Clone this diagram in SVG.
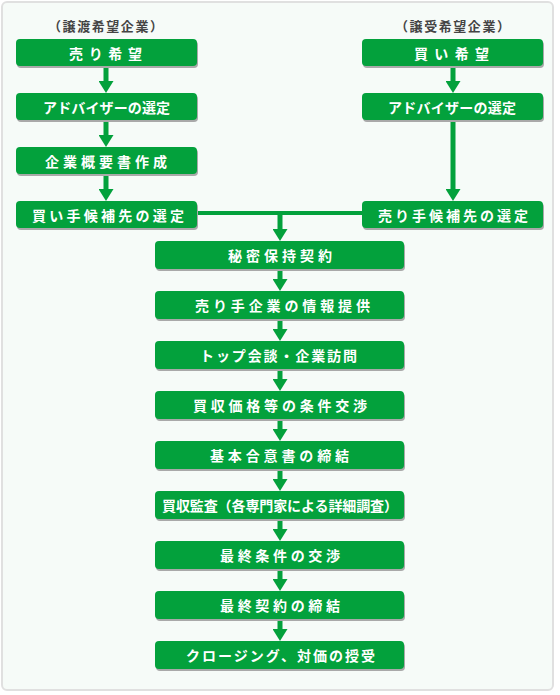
<svg xmlns="http://www.w3.org/2000/svg" width="560" height="695" viewBox="0 0 560 695">
<defs>
<style>
.panel{fill:#f6fbf8;stroke:#e0e0e0;stroke-width:2}
.box{fill:#03a13c}
.sh{fill:#a9a9a9}
.lbl{font-family:"Noto Sans CJK JP","Noto Sans",sans-serif;font-weight:bold;font-size:14px;fill:#ffffff;text-anchor:middle;dominant-baseline:central}
.hdr{font-family:"Noto Sans CJK JP","Noto Sans",sans-serif;font-weight:bold;font-size:13px;fill:#444444;text-anchor:middle;dominant-baseline:central}
.ln{stroke:#03a13c;stroke-width:5;fill:none}
.hl{stroke:#03a13c;stroke-width:4;fill:none}
</style>
<marker id="ah" markerUnits="userSpaceOnUse" markerWidth="12" markerHeight="15" viewBox="0 0 12 15" refX="0" refY="7.5" orient="auto">
<path d="M0,0 L12,7.5 L0,15 Z" fill="#03a13c"/>
</marker>
</defs>
<rect x="0" y="0" width="560" height="695" fill="#ffffff"/>
<rect class="panel" x="2" y="2" width="551" height="688" rx="5"/>
<text class="hdr" x="105.5" y="25.5" textLength="115" lengthAdjust="spacing">（譲渡希望企業）</text>
<text class="hdr" x="452.5" y="25.5" textLength="115" lengthAdjust="spacing">（譲受希望企業）</text>
<g id="connectors">
<path class="ln" d="M106,66 V81" marker-end="url(#ah)"/>
<path class="ln" d="M106,120 V135" marker-end="url(#ah)"/>
<path class="ln" d="M106,174 V189" marker-end="url(#ah)"/>
<path class="ln" d="M453,66 V81" marker-end="url(#ah)"/>
<path class="ln" d="M453,120 V189" marker-end="url(#ah)"/>
<path class="hl" d="M197,213 H362"/>
<path class="ln" d="M280,211 V229" marker-end="url(#ah)"/>
<path class="ln" d="M280,269 V279" marker-end="url(#ah)"/>
<path class="ln" d="M280,319 V329" marker-end="url(#ah)"/>
<path class="ln" d="M280,369 V379" marker-end="url(#ah)"/>
<path class="ln" d="M280,419 V429" marker-end="url(#ah)"/>
<path class="ln" d="M280,469 V479" marker-end="url(#ah)"/>
<path class="ln" d="M280,519 V529" marker-end="url(#ah)"/>
<path class="ln" d="M280,569 V579" marker-end="url(#ah)"/>
<path class="ln" d="M280,619 V629" marker-end="url(#ah)"/>
</g>
<g id="n1"><rect class="sh" x="17" y="41" width="181" height="27" rx="4"/><rect class="box" x="16" y="39" width="181" height="27" rx="4"/><text class="lbl" x="105.5" y="53" textLength="73" lengthAdjust="spacing">売り希望</text></g>
<g id="n2"><rect class="sh" x="17" y="95" width="181" height="27" rx="4"/><rect class="box" x="16" y="93" width="181" height="27" rx="4"/><text class="lbl" x="106.5" y="107" textLength="127" lengthAdjust="spacing">アドバイザーの選定</text></g>
<g id="n3"><rect class="sh" x="17" y="149" width="181" height="27" rx="4"/><rect class="box" x="16" y="147" width="181" height="27" rx="4"/><text class="lbl" x="106" y="161" textLength="122" lengthAdjust="spacing">企業概要書作成</text></g>
<g id="n4"><rect class="sh" x="17" y="203" width="181" height="27" rx="4"/><rect class="box" x="16" y="201" width="181" height="27" rx="4"/><text class="lbl" x="108" y="215" textLength="152" lengthAdjust="spacing">買い手候補先の選定</text></g>
<g id="n5"><rect class="sh" x="363" y="41" width="181" height="27" rx="4"/><rect class="box" x="362" y="39" width="181" height="27" rx="4"/><text class="lbl" x="451.5" y="53" textLength="75" lengthAdjust="spacing">買い希望</text></g>
<g id="n6"><rect class="sh" x="363" y="95" width="181" height="27" rx="4"/><rect class="box" x="362" y="93" width="181" height="27" rx="4"/><text class="lbl" x="452" y="107" textLength="128" lengthAdjust="spacing">アドバイザーの選定</text></g>
<g id="n7"><rect class="sh" x="363" y="203" width="181" height="27" rx="4"/><rect class="box" x="362" y="201" width="181" height="27" rx="4"/><text class="lbl" x="453" y="215" textLength="150" lengthAdjust="spacing">売り手候補先の選定</text></g>
<g id="c1"><rect class="sh" x="156" y="243" width="249" height="28" rx="4"/><rect class="box" x="155" y="241" width="249" height="28" rx="4"/><text class="lbl" x="280" y="255" textLength="104" lengthAdjust="spacing">秘密保持契約</text></g>
<g id="c2"><rect class="sh" x="156" y="293" width="249" height="28" rx="4"/><rect class="box" x="155" y="291" width="249" height="28" rx="4"/><text class="lbl" x="282.5" y="305" textLength="175" lengthAdjust="spacing">売り手企業の情報提供</text></g>
<g id="c3"><rect class="sh" x="156" y="343" width="249" height="28" rx="4"/><rect class="box" x="155" y="341" width="249" height="28" rx="4"/><text class="lbl" x="278.5" y="355" textLength="157" lengthAdjust="spacing">トップ会談・企業訪問</text></g>
<g id="c4"><rect class="sh" x="156" y="393" width="249" height="28" rx="4"/><rect class="box" x="155" y="391" width="249" height="28" rx="4"/><text class="lbl" x="280" y="405" textLength="174" lengthAdjust="spacing">買収価格等の条件交渉</text></g>
<g id="c5"><rect class="sh" x="156" y="443" width="249" height="28" rx="4"/><rect class="box" x="155" y="441" width="249" height="28" rx="4"/><text class="lbl" x="279.5" y="455" textLength="139" lengthAdjust="spacing">基本合意書の締結</text></g>
<g id="c6"><rect class="sh" x="156" y="493" width="249" height="28" rx="4"/><rect class="box" x="155" y="491" width="249" height="28" rx="4"/><text class="lbl" x="280" y="505" textLength="236" lengthAdjust="spacing">買収監査（各専門家による詳細調査）</text></g>
<g id="c7"><rect class="sh" x="156" y="543" width="249" height="28" rx="4"/><rect class="box" x="155" y="541" width="249" height="28" rx="4"/><text class="lbl" x="280" y="555" textLength="120" lengthAdjust="spacing">最終条件の交渉</text></g>
<g id="c8"><rect class="sh" x="156" y="593" width="249" height="28" rx="4"/><rect class="box" x="155" y="591" width="249" height="28" rx="4"/><text class="lbl" x="280" y="605" textLength="120" lengthAdjust="spacing">最終契約の締結</text></g>
<g id="c9"><rect class="sh" x="156" y="643" width="249" height="28" rx="4"/><rect class="box" x="155" y="641" width="249" height="28" rx="4"/><text class="lbl" x="280.5" y="655" textLength="189" lengthAdjust="spacing">クロージング、対価の授受</text></g>
</svg>
